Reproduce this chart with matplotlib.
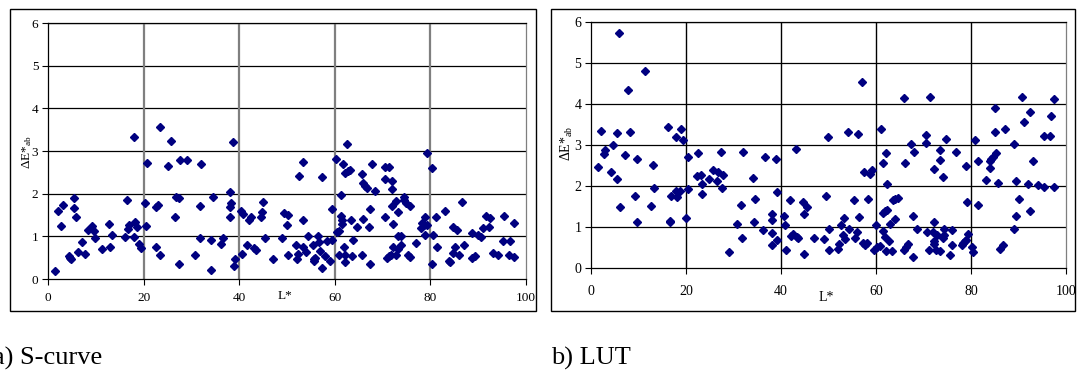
import matplotlib
matplotlib.use("Agg")
import matplotlib.pyplot as plt
from matplotlib.patches import Rectangle
from matplotlib.transforms import blended_transform_factory

# a) S-curve: L* vs colour difference
scurve_L = [1.5, 2.1, 3.1, 2.8, 5.5, 5.5, 5.8, 4.3, 4.7, 4.9, 6.2, 7.2, 7.8, 8.3, 9.3, 9.7, 9.8,
            11.4, 12.8, 13.0, 13.4, 16.2, 16.6, 16.8, 17.0, 18.0, 17.9, 18.3, 18.7, 19.0, 19.5,
            20.3, 20.7, 20.6, 22.6, 23.0, 22.6, 23.4, 23.4, 25.1, 25.7, 26.5, 26.8, 27.4, 27.7,
            27.4, 29.0, 30.7, 31.7, 31.7, 32.1, 34.0, 34.0,
            34.5, 36.2, 36.6, 38.7, 38.0, 38.3, 38.0, 38.1, 39.2, 39.0, 40.4, 40.8, 40.6, 42.0,
            42.4, 41.7, 43.2, 43.6, 44.9, 44.8, 44.6, 45.4, 47.0, 49.0, 49.4, 50.2, 49.9, 50.2,
            51.8, 52.0, 52.3, 52.5, 53.3, 53.4, 53.3, 54.0, 54.3, 55.4, 55.7, 55.6, 55.9, 56.4,
            56.6, 57.0, 57.3, 57.3, 57.9, 58.3, 58.9, 59.5, 59.4, 60.2, 60.5, 60.8, 61.2, 60.8,
            61.3, 61.5, 61.6, 61.8, 62.5, 62.2, 62.7, 63.1, 61.9, 62.1, 62.1, 63.4, 63.7, 63.9,
            64.6, 65.7, 66.0, 66.4, 66.8, 66.0, 65.7, 67.3, 67.1, 67.3,
            67.7, 68.5, 70.6, 71.4, 70.6, 72.0, 72.0, 74.4, 74.4, 74.8, 72.8, 71.9, 75.8, 73.3,
            70.5, 72.2, 78.8, 78.2, 78.6, 79.3, 78.0, 78.9, 79.2, 80.3, 81.2, 83.0, 86.7, 80.6,
            73.3, 73.9, 76.9, 73.8, 73.3, 72.1, 72.8, 71.8, 71.4, 71.0, 75.4, 75.8, 80.3, 81.4,
            83.9, 84.2, 84.8, 85.1, 86.0, 87.0, 84.8, 85.5, 88.6, 90.0, 90.5, 90.9, 92.2, 91.6,
            92.4, 95.3, 97.4, 95.1, 96.7, 88.8, 89.3, 93.0, 94.1, 96.5, 97.4]
scurve_dE = [0.19, 1.59, 1.73, 1.24, 1.89, 1.67, 1.46, 0.54, 0.50, 0.47, 0.64, 0.86, 0.59, 1.15, 1.24, 1.12, 0.96,
             0.70, 1.30, 0.74, 1.04, 0.98, 1.85, 1.18, 1.26, 3.32, 0.98, 1.33, 1.23, 0.82, 0.72,
             1.78, 2.72, 1.24, 1.69, 1.74, 0.75, 3.57, 0.56, 2.66, 3.24, 1.46, 1.93, 1.91, 2.80,
             0.35, 2.80, 0.57, 1.70, 0.97, 2.69, 0.92, 0.21,
             1.92, 0.83, 0.96, 3.20, 2.03, 1.79, 1.68, 1.46, 0.46, 0.31, 1.59, 1.52, 0.59, 1.39,
             1.45, 0.79, 0.72, 0.68, 1.81, 1.58, 1.46, 0.97, 0.47, 0.97, 1.55, 1.50, 1.26, 0.57,
             0.79, 0.46, 0.59, 2.42, 2.74, 1.39, 0.75, 0.64, 1.01, 0.79, 0.46, 0.42, 0.50, 1.01,
             0.86, 0.65, 2.40, 0.26, 0.53, 0.88, 0.42, 0.92, 1.64, 2.82, 1.11, 1.12, 1.96, 0.57,
             1.47, 1.39, 1.28, 2.70, 3.17, 2.48, 2.52, 2.56, 0.74, 0.57, 0.39, 1.38, 0.53, 0.92,
             1.22, 2.46, 2.25, 2.18, 2.14, 1.40, 0.57, 1.63, 1.22, 0.35,
             2.69, 2.07, 2.63, 2.63, 2.35, 2.30, 2.11, 1.93, 1.86, 1.77, 1.83, 1.72, 1.70, 1.57,
             1.45, 1.28, 1.46, 1.32, 1.27, 1.27, 1.20, 1.03, 2.95, 2.59, 1.46, 1.59, 1.81, 1.02,
             1.00, 1.00, 0.84, 0.80, 0.70, 0.74, 0.57, 0.57, 0.53, 0.49, 0.57, 0.51, 0.34, 0.75,
             0.43, 0.39, 0.62, 0.76, 0.56, 0.80, 1.23, 1.14, 1.08, 1.02, 0.98, 1.20, 1.23, 1.47,
             1.43, 1.47, 1.32, 0.90, 0.90, 0.49, 0.53, 0.61, 0.56, 0.56, 0.51]

# b) LUT
lut_L = [5.8, 11.4, 7.7, 2.0, 5.4, 8.3, 16.2, 18.9, 17.8, 19.4, 4.6, 3.0, 2.7, 7.2, 9.7, 13.0,
         1.4, 4.2, 5.4, 20.5, 22.5, 27.3, 32.0, 13.3, 9.2, 6.1, 12.7, 9.6, 16.8, 16.6, 16.7,
         17.8, 18.2, 18.8, 20.4, 20.1, 22.3, 23.1, 23.3, 23.4, 24.9, 25.6, 26.7, 26.5, 27.8,
         27.5, 31.5, 30.7, 31.7, 29.1,
         34.2, 36.6, 39.0, 43.1, 34.6, 34.4, 36.2, 38.2, 38.2, 38.0, 38.0, 39.2, 39.1, 40.6,
         40.8, 41.1, 41.8, 42.0, 42.5, 43.4, 43.6, 44.7, 45.5, 44.9, 44.9, 47.0, 49.0, 49.9,
         49.5, 50.2, 50.2, 51.9, 52.2, 52.6, 53.3, 53.0, 53.5, 54.0, 54.4, 55.4, 55.6, 56.0,
         56.2, 56.5, 57.1, 57.4, 57.3, 57.6, 58.0, 58.4, 58.7, 59.2, 59.6, 60.1, 60.3, 60.8,
         61.1, 61.4, 61.5, 62.0, 66.1, 62.3, 61.8, 62.2, 62.7, 63.4, 63.0, 63.9, 63.6, 64.1,
         64.7, 61.5, 61.8, 62.3, 65.8,
         71.4, 90.7, 97.4, 85.1, 92.4, 96.9, 91.1, 85.1, 87.2, 95.4, 96.7, 70.5, 70.6, 74.7,
         67.4, 80.8, 89.0, 67.9, 73.5, 73.5, 72.2, 74.0, 76.9, 78.9, 81.5, 83.9, 84.2, 84.6,
         85.2, 84.1, 83.2, 85.6, 89.5, 93.1, 91.9, 94.2, 95.3, 97.5, 79.2, 81.5, 90.2, 89.5,
         92.5, 89.0, 86.8, 86.1, 67.8, 68.6, 72.2, 70.8, 71.9, 74.4, 75.9, 72.9, 74.4, 74.0,
         72.2, 72.2, 71.2, 72.7, 73.5, 76.0, 75.6, 67.8, 79.4, 79.0, 78.7, 78.3, 78.0, 80.2,
         80.4, 65.9, 66.3, 66.7]
lut_dE = [5.73, 4.80, 4.34, 3.34, 3.30, 3.32, 3.43, 3.38, 3.20, 3.13, 3.00, 2.87, 2.78, 2.76, 2.66, 2.51,
          2.47, 2.33, 2.18, 2.71, 2.81, 2.83, 2.84, 1.96, 1.76, 1.50, 1.51, 1.13, 1.76, 1.14, 1.12,
          1.87, 1.74, 1.89, 1.93, 1.23, 2.25, 2.28, 2.05, 1.80, 2.17, 2.38, 2.35, 2.11, 2.28,
          1.95, 1.54, 1.08, 0.72, 0.40,
          2.20, 2.70, 2.66, 2.91, 1.68, 1.13, 0.93, 1.31, 1.17, 0.85, 0.57, 0.68, 1.85, 1.28,
          1.05, 0.45, 1.67, 0.77, 0.83, 0.75, 0.73, 1.60, 1.49, 1.32, 0.35, 0.72, 0.70, 3.20,
          1.76, 0.96, 0.45, 0.47, 0.59, 1.05, 1.23, 0.81, 0.70, 3.32, 0.96, 1.66, 0.73, 0.87,
          3.28, 1.24, 4.53, 2.35, 0.62, 0.56, 0.60, 1.68, 2.30, 2.38, 0.45, 1.04, 0.52, 0.53,
          3.40, 0.91, 2.57, 2.80, 2.55, 2.05, 0.75, 0.42, 0.66, 0.41, 1.08, 1.19, 1.66, 1.69,
          1.70, 1.33, 1.38, 1.42, 4.14,
          4.17, 4.17, 4.13, 3.90, 3.80, 3.71, 3.55, 3.32, 3.38, 3.21, 3.21, 3.24, 3.05, 3.15,
          3.03, 3.13, 3.03, 2.83, 2.87, 2.63, 2.41, 2.21, 2.82, 2.49, 2.62, 2.62, 2.66, 2.70,
          2.81, 2.45, 2.15, 2.07, 2.11, 2.62, 2.05, 2.02, 1.98, 1.98, 1.61, 1.53, 1.69, 1.26,
          1.39, 0.95, 0.57, 0.47, 1.26, 0.96, 1.13, 0.89, 0.89, 0.96, 0.93, 0.80, 0.81, 0.72,
          0.66, 0.58, 0.45, 0.43, 0.41, 0.57, 0.31, 0.27, 0.84, 0.69, 0.65, 0.60, 0.55, 0.52,
          0.38, 0.45, 0.52, 0.58]

x_ticks = [0, 20, 40, 60, 80, 100]
y_ticks = [0, 1, 2, 3, 4, 5, 6]

W, H = 1077, 370
plt.rcParams['font.family'] = ['Liberation Serif', 'DejaVu Serif']
plt.rcParams['mathtext.fontset'] = 'custom'
plt.rcParams['mathtext.rm'] = 'Liberation Serif'
plt.rcParams['mathtext.it'] = 'Liberation Serif'

fig = plt.figure(figsize=(W / 100, H / 100), dpi=100)
fig.patch.set_facecolor('white')


def px_rect(x0, y0, x1, y1):
    """pixel box (top-left origin) -> figure fractions [l, b, w, h]"""
    return [x0 / W, (H - y1) / H, (x1 - x0) / W, (y1 - y0) / H]


# chart-area frames
for x0, y0, x1, y1 in [(10, 9, 536, 311), (551, 9, 1075, 311)]:
    l, b, w, h = px_rect(x0, y0, x1, y1)
    fig.patches.append(Rectangle((l, b), w, h, transform=fig.transFigure,
                                 fill=False, edgecolor='black', linewidth=1.0))

panels = [
    (scurve_L, scurve_dE, px_rect(48, 23, 526, 279), '#7f7f7f', 1.6, 9.5, 5.5, -0.066, (27, 152)),
    (lut_L, lut_dE, px_rect(591, 22, 1066, 268), 'black', 1.0, 10, 8, -0.118, (567, 143)),
]

for L, dE, rect, vcol, vlw, fs, pad, lab_y, ylab_xy in panels:
    ax = fig.add_axes(rect)
    ax.set_xlim(0, 100)
    ax.set_ylim(0, 6)
    ax.set_xticks(x_ticks)
    ax.set_yticks(y_ticks)
    for y in y_ticks[1:]:
        ax.axhline(y, color='black', linewidth=0.9, zorder=1)
    for x in x_ticks[1:-1]:
        ax.axvline(x, color=vcol, linewidth=vlw, zorder=1)
    ax.plot(L, dE, linestyle='none', marker='D', markersize=3.6,
            color='#000080', zorder=3, clip_on=False)
    for s in ax.spines.values():
        s.set_linewidth(0.9)
    ax.spines['right'].set_color('#7f7f7f')
    ax.tick_params(axis='x', direction='out', length=4, width=0.8, labelsize=fs, pad=pad)
    ax.tick_params(axis='y', direction='out', length=4, width=0.8, labelsize=fs, pad=3)
    trans = blended_transform_factory(ax.transData, ax.transAxes)
    ax.text(49.5, lab_y, 'L*', transform=trans, ha='center', va='center', fontsize=fs)
    fig.text(ylab_xy[0] / W, 1 - ylab_xy[1] / H, r'$\Delta$E*$_{\mathrm{ab}}$', rotation=90,
             ha='center', va='center', fontsize=fs)

# captions
fig.text(-7 / W, 5 / H, 'a) S-curve', fontsize=19, ha='left', va='baseline')
fig.text(551 / W, 5 / H, 'b) LUT', fontsize=19, ha='left', va='baseline')

fig.savefig('out.png', dpi=100, facecolor='white')
